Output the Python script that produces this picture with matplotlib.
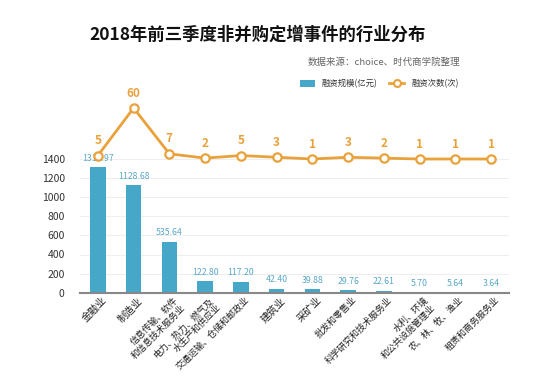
import matplotlib
matplotlib.use("Agg")
import matplotlib.pyplot as plt
from matplotlib.lines import Line2D
from matplotlib.patches import Patch
from matplotlib.transforms import ScaledTranslation
import numpy as np

# 数据
industries = ["金融业", "制造业", "信息传输、软件\n和信息技术服务业", "电力、热力、燃气及\n水生产和供应业",
              "交通运输、仓储和邮政业", "建筑业", "采矿业", "批发和零售业", "科学研究和技术服务业",
              "水利、环境\n和公共设施管理业", "农、林、牧、渔业", "租赁和商务服务业"]
amount = [1314.97, 1128.68, 535.64, 122.80, 117.20, 42.40, 39.88, 29.76, 22.61, 5.70, 5.64, 3.64]
count = [5, 60, 7, 2, 5, 3, 1, 3, 2, 1, 1, 1]
yticks = [0, 200, 400, 600, 800, 1000, 1200, 1400]

BLUE = "#46A7C9"
ORANGE = "#E9A23B"

plt.rcParams["font.family"] = ["Noto Sans CJK SC", "DejaVu Sans"]
plt.rcParams["axes.unicode_minus"] = False

W, H = 554, 382
fig = plt.figure(figsize=(W / 100, H / 100), dpi=100)
fig.patch.set_facecolor("white")

# 坐标轴位置(像素换算)
left, right, bottom, top = 80, 509, 292.7, 159
ax = fig.add_axes([left / W, (H - bottom) / H, (right - left) / W, (bottom - top) / H])

x = np.arange(len(industries))
ax.bar(x, amount, width=0.44, color=BLUE, zorder=2)
ax.set_xlim(-0.5, len(industries) - 0.5)
ax.set_ylim(0, 1400)
ax.set_yticks(yticks)
ax.tick_params(axis="y", length=0, pad=11, labelsize=7.5, labelcolor="#333333")
ax.tick_params(axis="x", length=0, pad=2)
ax.grid(axis="y", color="#EEEEEE", lw=0.8, zorder=0)
for s in ["left", "right", "top"]:
    ax.spines[s].set_visible(False)
ax.spines["bottom"].set_color("#888888")
ax.spines["bottom"].set_linewidth(1.5)
ax.spines["bottom"].set_zorder(3)

ax.set_xticks(x)
ax.set_xticklabels(industries, rotation=45, ha="right", va="top", rotation_mode="anchor",
                   multialignment="right", color="#222222")
shift = ScaledTranslation(4 / 100, 0, fig.dpi_scale_trans)
for lbl in ax.get_xticklabels():
    lbl.set_fontsize(7.3 if len(lbl.get_text()) <= 3 else 6.5)
    lbl.set_transform(lbl.get_transform() + shift)

for xi, v in zip(x, amount):
    ax.annotate(f"{v:.2f}", (xi, v), xytext=(0, 3), textcoords="offset points",
                ha="center", va="bottom", fontsize=6.3, color="#5AA9C8")

# 次数折线
ax2 = ax.twinx()
ax2.set_ylim(-153.7, 1.0)
ax2.axis("off")
ax2.plot(x, count, color=ORANGE, lw=2, marker="o", ms=6, mfc="white", mec=ORANGE, mew=1.6,
         clip_on=False, zorder=5)
for xi, v in zip(x, count):
    ax2.annotate(str(v), (xi, v), xytext=(0, 6), textcoords="offset points",
                 ha="center", va="bottom", fontsize=8.5, fontweight="bold", color=ORANGE,
                 annotation_clip=False)

# 标题和来源
fig.text(258 / W, 1 - 35 / H, "2018年前三季度非并购定增事件的行业分布", ha="center", va="center",
         fontsize=12.5, fontweight="bold", color="#111111")
fig.text(460 / W, 1 - 62 / H, "数据来源：choice、时代商学院整理", ha="right", va="center",
         fontsize=6.8, color="#666666")

# 图例
handles = [Patch(facecolor=BLUE, edgecolor="none"),
           Line2D([0], [0], color=ORANGE, lw=2, marker="o", ms=5, mfc="white", mec=ORANGE, mew=1.5)]
fig.legend(handles, ["融资规模(亿元)", "融资次数(次)"], loc="center right",
           bbox_to_anchor=(466 / W, 1 - 84 / H), ncol=2, frameon=False, fontsize=6,
           handlelength=1.8, handleheight=0.9, columnspacing=1.5, handletextpad=0.8,
           labelcolor="#333333")

fig.savefig("out.png", dpi=100, facecolor="white")
